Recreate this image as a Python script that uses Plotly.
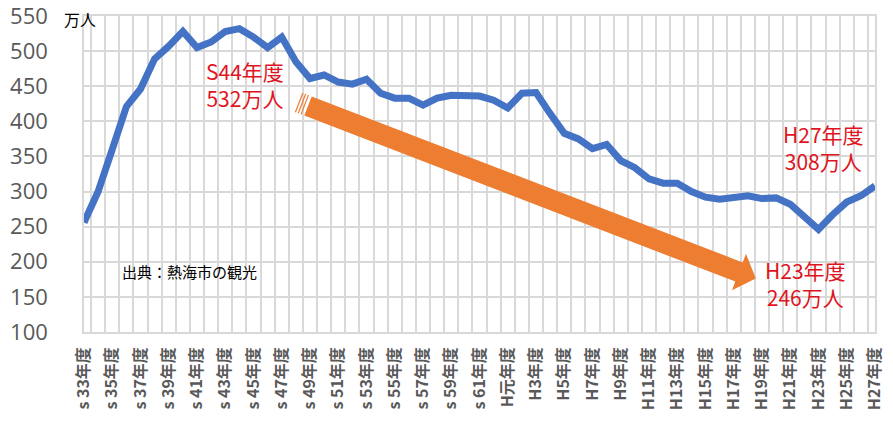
import plotly.graph_objects as go
import numpy as np

# ---- data ----
categories = [f"s {n}年度" for n in range(33, 63)] + ["H元年度"] + [f"H{n}年度" for n in range(2, 28)]
visitors = [
    256, 300, 360, 421, 446, 489, 507, 528, 505, 513,   # S33-S42
    528, 532, 520, 505, 520, 485, 461, 466, 456, 453,   # S43-S52
    460, 440, 433, 433, 423, 433, 437, 436, 436, 430,   # S53-S62
    419, 440, 441, 411, 383, 375, 361, 367, 344, 334,   # H1-H10
    318, 312, 312, 300, 292, 289, 291, 294, 290, 291,   # H11-H20
    282, 264, 246, 267, 285, 294, 308                   # H21-H27
]
tick_labels = [c if i % 2 == 0 else "" for i, c in enumerate(categories)]
y_ticks = [100, 150, 200, 250, 300, 350, 400, 450, 500, 550]

W, H = 893, 436
X0, X1, Y0, Y1 = 84, 875, 16, 332
ML, MT = X0, Y0
MR, MB = W - X1, H - Y1
PW, PH = X1 - X0, Y1 - Y0

def px(x, y):
    return (x - X0) / PW, (Y1 - y) / PH

fig = go.Figure()
fig.add_trace(go.Scatter(
    x=categories, y=visitors, mode="lines",
    line=dict(color="#4472C4", width=7),
    hoverinfo="skip", showlegend=False,
))

grid = "#d9d9d9"
fig.update_xaxes(
    type="category", tickson="boundaries",
    tickmode="array", tickvals=categories, ticktext=tick_labels,
    tickangle=-90, ticks="", showgrid=True, gridcolor=grid, gridwidth=1.5,
    showline=True, linecolor=grid, linewidth=1.5, mirror=True,
    tickfont=dict(family="Noto Sans CJK JP", size=16, color="#595959", weight="bold"),
    ticklabelstandoff=7, zeroline=False, fixedrange=True, automargin=False,
    ticklabeloverflow="allow",
)
fig.update_yaxes(
    range=[100, 550], tickmode="array", tickvals=y_ticks,
    showgrid=True, gridcolor=grid, gridwidth=1.5,
    showline=True, linecolor=grid, linewidth=1.5, mirror=True,
    tickfont=dict(family="Open Sans", size=22, color="#595959"),
    ticks="", ticklabelstandoff=30, zeroline=False, fixedrange=True, automargin=False,
    ticklabeloverflow="allow",
)

# ---- orange arrow (striped) ----
S = np.array([308.0, 106.0])
B = np.array([739.0, 272.0])
d = (B - S) / np.linalg.norm(B - S)
n = np.array([-d[1], d[0]])
hw, hh, hl = 10.3, 19.5, 18.0
T = B + d * hl
pts = [S + n * hw, B + n * hw, B + n * hh, T, B - n * hh, B - n * hw, S - n * hw]
path = "M " + " L ".join(f"{px(*p)[0]:.5f},{px(*p)[1]:.5f}" for p in pts) + " Z"
fig.add_shape(type="path", path=path, xref="paper", yref="paper",
              fillcolor="#ED7D31", line=dict(width=0), layer="above")
for off in (3.5, 6.5, 9.5):
    a = S - d * off + n * hw
    b = S - d * off - n * hw
    pa, pb = px(*a), px(*b)
    fig.add_shape(type="line", x0=pa[0], y0=pa[1], x1=pb[0], y1=pb[1],
                  xref="paper", yref="paper", line=dict(color="#ED7D31", width=1.2))

red = "#E0141E"
def note(text, x, y, size=21, color=red, family="Noto Sans CJK JP"):
    xp, yp = px(x, y)
    fig.add_annotation(text=text, x=xp, y=yp, xref="paper", yref="paper",
                       showarrow=False, xanchor="center", yanchor="middle",
                       font=dict(family=family, size=size, color=color))

note("S44年度<br>532万人", 245, 84)
note("H27年度<br>308万人", 823, 147)
note("H23年度<br>246万人", 805, 283)
note("出典：熱海市の観光", 189, 271, size=15, color="#000000")
note("万人", 80, 19, size=16, color="#000000")

fig.update_layout(
    width=W, height=H,
    margin=dict(l=ML, r=MR, t=MT, b=MB, autoexpand=False),
    paper_bgcolor="white", plot_bgcolor="white",
    showlegend=False,
)
fig.write_html("out.html", config={"displayModeBar": False},
               post_script="document.body.style.margin='0';document.body.style.padding='0';")
